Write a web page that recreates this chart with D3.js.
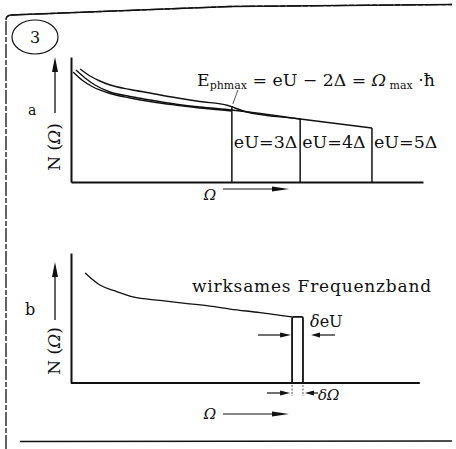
<!DOCTYPE html>
<html>
<head>
<meta charset="utf-8">
<script src="https://cdn.jsdelivr.net/npm/d3@7"></script>
<style>
  html, body { margin: 0; padding: 0; background: #fff; }
  svg { display: block; }
  text { font-family: "DejaVu Serif", "Liberation Serif", serif; fill: #111; }
</style>
</head>
<body>
<svg id="fig" width="456" height="449"></svg>
<script>
// Phonon spectrum N(Ω) — panel a: three bias voltages, panel b: effective band
// Ω in arbitrary units (0..100), N(Ω) in arbitrary units (0..100)

// panel a: spectra, each cut off at Ω_max = (eU − 2Δ)/ħ
const curveA1 = [[0.6, 88], [3.1, 81.6], [6.0, 76.4], [11.1, 70.8], [16.8, 67.2], [22.4, 64.4], [29.5, 61.6], [36.6, 59.2], [45.7, 56.8]];
const curveA2 = [[1.4, 89.6], [4.0, 83.2], [6.8, 77.6], [11.1, 72], [16.8, 68.4], [22.4, 65.6], [29.5, 62.4], [36.6, 60], [45.7, 57.6], [65.1, 50.4]];
const curveA3 = [[2.6, 90.4], [5.4, 84.8], [8.2, 80.8], [11.1, 77.6], [16.8, 74], [22.4, 71.2], [29.5, 67.6], [36.6, 64.4], [44.6, 61.2], [49.4, 56.4], [65.1, 50.4], [85.5, 43.2]];
const cutoffOmega = [45.7, 65.1, 85.5];
const cutoffN = [57.6, 50.4, 43.2];
const cutoffLabels = ["eU=3Δ", "eU=4Δ", "eU=5Δ"];

// panel b: spectrum and the narrow effective band δΩ
const curveB = [[4.0, 84.6], [8.2, 75.4], [12.5, 70.8], [17.6, 66.2], [25.3, 63.5], [31.8, 61.5], [39.5, 59.2], [45.2, 56.9], [53.7, 54.2], [62.8, 50.8]];
const band = { from: 62.8, to: 65.9, n: 50.8 };

const svg = d3.select("#fig");
svg.append("rect").attr("width", 456).attr("height", 449).attr("fill", "#fff");

const x = d3.scaleLinear().domain([0, 100]).range([71, 423]);
const yA = d3.scaleLinear().domain([0, 100]).range([182, 57]);
const yB = d3.scaleLinear().domain([0, 100]).range([383, 253]);

const ink = "#111";

// outer frame
svg.append("path")
  .attr("d", "M6,449 L6,20 Q6,15.5 11,15 L230,6.5 L452,4.5")
  .attr("fill", "none").attr("stroke", ink).attr("stroke-width", 1.3)
  .attr("stroke-dasharray", "14 2 5 2");
svg.append("path")
  .attr("d", "M6,20 Q6,15.5 11,15 L230,6.5 L452,4.5")
  .attr("fill", "none").attr("stroke", ink).attr("stroke-width", 1.4);
svg.append("line").attr("x1", 20).attr("y1", 441.5).attr("x2", 452).attr("y2", 441)
  .attr("stroke", ink).attr("stroke-width", 1.5);

// figure number
svg.append("ellipse").attr("cx", 35).attr("cy", 37).attr("rx", 23).attr("ry", 17)
  .attr("fill", "none").attr("stroke", ink).attr("stroke-width", 1.2);
svg.append("text").attr("x", 35).attr("y", 43).attr("text-anchor", "middle")
  .attr("font-size", 16).text("3");

function upArrow(xp, y1, y2) {
  svg.append("line").attr("x1", xp).attr("y1", y1).attr("x2", xp).attr("y2", y2 + 10)
    .attr("stroke", ink).attr("stroke-width", 1.3);
  svg.append("path").attr("d", `M${xp},${y2} L${xp - 3},${y2 + 15} L${xp + 3},${y2 + 15} Z`).attr("fill", ink);
}
function hArrow(x1, x2, yp, head) {
  const dir = x2 > x1 ? 1 : -1;
  svg.append("line").attr("x1", x1).attr("y1", yp).attr("x2", x2 - dir * 6).attr("y2", yp)
    .attr("stroke", ink).attr("stroke-width", 1.2);
  svg.append("path").attr("d", `M${x2},${yp} L${x2 - dir * head},${yp - 2.5} L${x2 - dir * head},${yp + 2.5} Z`).attr("fill", ink);
}
function yLabel(cx, cy) {
  const t = svg.append("text").attr("transform", `translate(${cx},${cy}) rotate(-90)`)
    .attr("text-anchor", "middle").attr("font-size", 17);
  t.append("tspan").text("N (");
  t.append("tspan").style("font-style", "italic").text("Ω");
  t.append("tspan").text(")");
}
function omegaArrow(yp, base) {
  svg.append("text").attr("x", 210).attr("y", base).attr("text-anchor", "middle")
    .attr("font-size", 15).style("font-style", "italic").text("Ω");
  hArrow(223, 289, yp, 17);
}

const line = d3.line().x(d => x(d[0])).curve(d3.curveMonotoneX);

// ---------- panel a ----------
const gA = svg.append("g");
gA.append("g").attr("transform", `translate(0,${yA(0)})`)
  .call(d3.axisBottom(x).ticks(0).tickSizeOuter(0))
  .select(".domain").attr("stroke", ink).attr("stroke-width", 2);
gA.append("g").attr("transform", `translate(${x(0)},0)`)
  .call(d3.axisLeft(yA).ticks(0).tickSizeOuter(0))
  .select(".domain").attr("stroke", ink).attr("stroke-width", 2);

[curveA1, curveA2, curveA3].forEach(c => {
  gA.append("path").datum(c).attr("d", line.y(d => yA(d[1])))
    .attr("fill", "none").attr("stroke", ink).attr("stroke-width", 1.4);
});
cutoffOmega.forEach((w, i) => {
  gA.append("line").attr("x1", x(w)).attr("x2", x(w))
    .attr("y1", yA(cutoffN[i]) - (i === 0 ? 4 : 0)).attr("y2", yA(0))
    .attr("stroke", ink).attr("stroke-width", 1.5);
  gA.append("text").attr("x", x(w) + 2).attr("y", 148).attr("font-size", 17.5)
    .text(cutoffLabels[i]);
});
// leader from the formula to the first cut-off
gA.append("line").attr("x1", x(cutoffOmega[0]) + 1).attr("y1", yA(cutoffN[0]) - 6)
  .attr("x2", x(cutoffOmega[0]) + 6).attr("y2", 90)
  .attr("stroke", ink).attr("stroke-width", 0.7);

const f = gA.append("text").attr("x", 197).attr("y", 86).attr("font-size", 17.3);
f.append("tspan").text("E");
f.append("tspan").attr("font-size", 11).attr("dy", 3).text("phmax");
f.append("tspan").attr("dy", -3).text(" = eU − 2Δ = ");
f.append("tspan").style("font-style", "italic").text("Ω");
f.append("tspan").attr("font-size", 11).attr("dy", 3).text(" max");
f.append("tspan").attr("dy", -3).text(" ·ħ");

upArrow(55, 113, 57);
yLabel(60, 147);
svg.append("text").attr("x", 28).attr("y", 115).attr("font-size", 14).text("a");
omegaArrow(189, 200);

// ---------- panel b ----------
const gB = svg.append("g");
gB.append("g").attr("transform", `translate(0,${yB(0)})`)
  .call(d3.axisBottom(x).ticks(0).tickSizeOuter(0))
  .select(".domain").attr("stroke", ink).attr("stroke-width", 2)
  .attr("d", `M${x(0)},0H${x(99.1)}`);
gB.append("g").attr("transform", `translate(${x(0)},0)`)
  .call(d3.axisLeft(yB).ticks(0).tickSizeOuter(0))
  .select(".domain").attr("stroke", ink).attr("stroke-width", 2);

gB.append("path").datum(curveB).attr("d", line.y(d => yB(d[1])))
  .attr("fill", "none").attr("stroke", ink).attr("stroke-width", 1.3);

gB.append("rect").attr("x", x(band.from)).attr("y", yB(band.n))
  .attr("width", x(band.to) - x(band.from)).attr("height", yB(0) - yB(band.n))
  .attr("rx", 1.5)
  .attr("fill", "none").attr("stroke", ink).attr("stroke-width", 1.8);

gB.append("text").attr("x", 192).attr("y", 292).attr("font-size", 17)
  .attr("letter-spacing", 0.8).text("wirksames Frequenzband");
const de = gB.append("text").attr("x", 310).attr("y", 327).attr("font-size", 16);
de.append("tspan").style("font-style", "italic").text("δ");
de.append("tspan").text("eU");

hArrow(258, x(band.from) - 1, 335, 11);
hArrow(335, 311, 335, 9);

// band width markers below the axis
[band.from, band.to].forEach(w => {
  gB.append("line").attr("x1", x(w)).attr("x2", x(w)).attr("y1", yB(0) + 2).attr("y2", yB(0) + 13)
    .attr("stroke", ink).attr("stroke-width", 0.7).attr("stroke-dasharray", "2 1.5");
});
hArrow(267, x(band.from) - 2, 393, 10);
hArrow(318, x(band.to) + 2, 393, 9);
const dO = gB.append("text").attr("x", 318).attr("y", 400).attr("font-size", 15).style("font-style", "italic");
dO.append("tspan").text("δΩ");

upArrow(55, 320, 262);
yLabel(60, 351);
svg.append("text").attr("x", 25).attr("y", 315).attr("font-size", 16).text("b");
omegaArrow(414, 419);
</script>
</body>
</html>
